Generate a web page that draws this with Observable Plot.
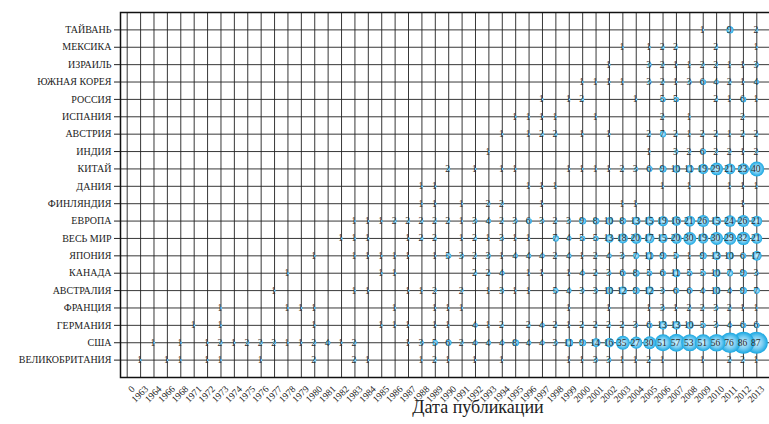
<!DOCTYPE html>
<html><head><meta charset="utf-8">
<script src="https://cdn.jsdelivr.net/npm/d3@7"></script>
<script src="https://cdn.jsdelivr.net/npm/@observablehq/plot@0.6"></script>
<style>
html,body{margin:0;padding:0;background:#fff;overflow:hidden}
</style></head><body><div id="chart"></div>
<script>
const years = ["0","1963","1964","1966","1968","1971","1972","1973","1974","1975","1976","1977","1978","1979","1980","1981","1982","1983","1984","1985","1986","1987","1988","1989","1990","1991","1992","1993","1994","1995","1996","1997","1998","1999","2000","2001","2002","2003","2004","2005","2006","2007","2008","2009","2010","2011","2012","2013"];
const countries = ["ТАЙВАНЬ","МЕКСИКА","ИЗРАИЛЬ","ЮЖНАЯ КОРЕЯ","РОССИЯ","ИСПАНИЯ","АВСТРИЯ","ИНДИЯ","КИТАЙ","ДАНИЯ","ФИНЛЯНДИЯ","ЕВРОПА","ВЕСЬ МИР","ЯПОНИЯ","КАНАДА","АВСТРАЛИЯ","ФРАНЦИЯ","ГЕРМАНИЯ","США","ВЕЛИКОБРИТАНИЯ"];

// [year, number of publications]
const taiwan = [[2009,1],[2011,9],[2013,2]];
const mexico = [[2003,1],[2005,1],[2006,2],[2007,2],[2010,2],[2013,1]];
const israel = [[2002,1],[2005,3],[2006,2],[2007,1],[2008,1],[2009,2],[2010,2],[2011,1],[2012,1],[2013,3]];
const korea = [[2000,1],[2001,1],[2002,1],[2003,1],[2005,3],[2006,2],[2007,1],[2008,3],[2009,6],[2010,4],[2011,2],[2012,1],[2013,4]];
const russia = [[1997,1],[1999,1],[2000,2],[2004,1],[2006,5],[2007,5],[2010,2],[2011,1],[2012,6],[2013,1]];
const spain = [[1995,1],[1996,1],[1997,1],[1998,1],[2001,1],[2006,2],[2008,1],[2012,2]];
const austria = [[1994,1],[1996,1],[1997,2],[1998,2],[2000,1],[2002,1],[2005,2],[2006,7],[2007,2],[2008,1],[2009,2],[2010,2],[2011,1],[2012,2],[2013,2]];
const india = [[1993,1],[2005,1],[2007,3],[2008,2],[2009,6],[2010,2],[2011,2],[2012,1],[2013,2]];
const china = [[1990,2],[1992,1],[1994,1],[1995,1],[1999,1],[2000,1],[2001,1],[2002,1],[2003,2],[2004,3],[2005,6],[2006,9],[2007,10],[2008,11],[2009,19],[2010,29],[2011,21],[2012,23],[2013,40]];
const denmark = [[1988,1],[1989,1],[1996,1],[1997,1],[1998,1],[2006,1],[2008,1],[2011,1],[2012,1],[2013,1]];
const finland = [[1988,1],[1989,1],[1991,1],[1993,2],[1994,2],[1997,1],[2003,1],[2004,1],[2012,1]];
const europe = [[1983,1],[1984,1],[1985,1],[1986,2],[1987,2],[1988,2],[1989,2],[1990,2],[1991,1],[1992,3],[1993,4],[1994,2],[1995,3],[1996,6],[1997,3],[1998,2],[1999,3],[2000,9],[2001,8],[2002,10],[2003,8],[2004,13],[2005,15],[2006,19],[2007,16],[2008,21],[2009,26],[2010,15],[2011,24],[2012,26],[2013,21]];
const world = [[1982,1],[1983,1],[1984,1],[1987,1],[1988,2],[1989,2],[1991,1],[1992,2],[1993,1],[1994,3],[1995,1],[1996,1],[1998,7],[1999,4],[2000,5],[2001,5],[2002,13],[2003,18],[2004,20],[2005,17],[2006,15],[2007,20],[2008,30],[2009,19],[2010,30],[2011,29],[2012,32],[2013,21]];
const japan = [[1980,1],[1983,1],[1984,1],[1985,1],[1986,1],[1987,1],[1989,1],[1990,5],[1991,3],[1992,2],[1993,3],[1994,1],[1995,4],[1996,4],[1997,4],[1998,2],[1999,4],[2000,1],[2001,2],[2002,4],[2003,3],[2004,7],[2005,11],[2006,9],[2007,5],[2008,1],[2009,9],[2010,13],[2011,10],[2012,6],[2013,17]];
const canada = [[1978,1],[1985,1],[1986,1],[1992,2],[1993,2],[1994,4],[1996,1],[1997,1],[1999,1],[2000,4],[2001,2],[2002,3],[2003,6],[2004,8],[2005,5],[2006,6],[2007,11],[2008,5],[2009,5],[2010,10],[2011,7],[2012,9],[2013,3]];
const australia = [[1977,1],[1983,1],[1984,1],[1987,1],[1988,1],[1989,2],[1991,2],[1993,1],[1994,3],[1995,1],[1996,1],[1998,5],[1999,4],[2000,3],[2001,3],[2002,10],[2003,12],[2004,9],[2005,12],[2006,3],[2007,6],[2008,6],[2009,4],[2010,10],[2011,4],[2012,9],[2013,7]];
const france = [[1973,1],[1978,1],[1979,1],[1980,1],[1986,1],[1989,1],[1990,1],[1991,1],[1999,1],[2002,1],[2005,1],[2006,3],[2007,1],[2008,2],[2009,2],[2010,3],[2011,2],[2012,1],[2013,1]];
const germany = [[1971,1],[1973,1],[1980,1],[1985,1],[1986,1],[1987,1],[1989,1],[1990,1],[1992,4],[1993,1],[1994,2],[1996,2],[1997,4],[1998,2],[1999,1],[2000,2],[2001,2],[2002,2],[2003,2],[2004,3],[2005,6],[2006,13],[2007,13],[2008,10],[2009,5],[2010,3],[2011,4],[2012,6],[2013,6]];
const usa = [[1964,1],[1968,1],[1972,1],[1973,2],[1974,1],[1975,2],[1976,2],[1977,2],[1978,1],[1979,1],[1980,2],[1981,4],[1982,1],[1983,2],[1987,1],[1988,3],[1989,5],[1990,6],[1991,2],[1992,4],[1993,4],[1994,4],[1995,8],[1996,4],[1997,4],[1998,3],[1999,11],[2000,9],[2001,14],[2002,16],[2003,35],[2004,27],[2005,30],[2006,51],[2007,57],[2008,53],[2009,51],[2010,56],[2011,76],[2012,86],[2013,87]];
const uk = [[1963,1],[1966,1],[1968,1],[1972,1],[1973,1],[1976,1],[1980,2],[1983,2],[1984,1],[1988,1],[1989,2],[1990,1],[1992,1],[1994,1],[1999,1],[2000,1],[2001,3],[2002,3],[2003,1],[2004,1],[2005,2],[2006,1],[2009,1],[2011,2],[2012,2],[2013,1]];

const seriesByCountry = [taiwan, mexico, israel, korea, russia, spain, austria, india, china, denmark, finland, europe, world, japan, canada, australia, france, germany, usa, uk];

const data = [];
countries.forEach((c, i) => {
  for (const [yr, n] of seriesByCountry[i]) data.push({country: c, year: String(yr), n});
});

const defs = () => {
  const g = d3.create("svg:defs");
  const grad = g.append("radialGradient").attr("id", "bubble");
  grad.append("stop").attr("offset", "0%").attr("stop-color", "#d4f0fc");
  grad.append("stop").attr("offset", "55%").attr("stop-color", "#78cdf2");
  grad.append("stop").attr("offset", "100%").attr("stop-color", "#17a6e1");
  return g.node();
};

const serif = "'Liberation Serif', 'DejaVu Serif', serif";

const chart = Plot.plot({
  width: 769,
  height: 424,
  marginTop: 12,
  marginBottom: 47,
  marginLeft: 120,
  marginRight: 0,
  style: {fontFamily: serif, background: "#fff", color: "#222"},
  x: {type: "point", domain: years, range: [120, 763], round: false},
  y: {type: "point", domain: countries, padding: 1, round: false},
  r: {type: "sqrt", domain: [0, 87], range: [0, 11]},
  marks: [
    defs,
    Plot.gridX({stroke: "#222", strokeOpacity: 0.9}),
    Plot.gridY({stroke: "#222", strokeOpacity: 0.9}),
    Plot.frame({stroke: "#111", strokeWidth: 1.5, insetRight: -4}),
    Plot.axisY({tickSize: 6, tickPadding: 3, fontSize: 10, fontFamily: serif, label: null}),
    Plot.axisX({tickSize: 0, tickRotate: -45, tickPadding: 10, dx: 6, fontSize: 9.5, fontFamily: serif, label: null}),
    Plot.dot(data, {x: "year", y: "country", r: "n", fill: "url(#bubble)", stroke: "none"}),
    Plot.text(data, {x: "year", y: "country", text: d => String(d.n), fontSize: 9.5, fontFamily: serif, fill: "#2a2a2a", dx: -1}),
    Plot.text(["Дата публикации"], {frameAnchor: "bottom", text: d => d, dy: 35, dx: 33, fontSize: 18, fontFamily: serif, fill: "#222"})
  ]
});
document.getElementById("chart").appendChild(chart);
</script>
</body></html>
